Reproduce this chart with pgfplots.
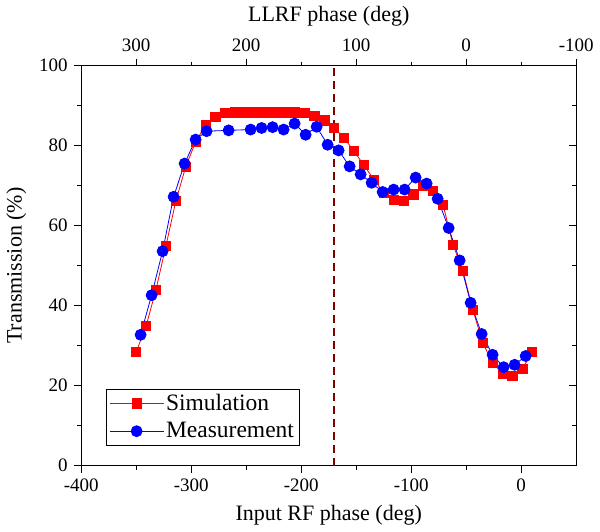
\documentclass[border=0pt]{standalone}
\usepackage{pgfplots}
\pgfplotsset{compat=1.18}
\usepackage{fontspec}
\setmainfont{Liberation Serif}
\definecolor{dred}{RGB}{128,0,0}
\begin{document}
\fontsize{19}{23}\selectfont
\begin{tikzpicture}
\pgfplotsset{
  common/.style={
    width=495pt, height=400pt, scale only axis,
    xmin=-400, xmax=50, ymin=0, ymax=100,
    /pgf/number format/assume math mode=true,
    tick style={black, line width=0.8pt},
    major tick length=7pt, minor tick length=4pt,
    axis line style={-, line width=0.8pt},
    ticklabel style={font=\fontsize{19}{23}\selectfont},
    label style={font=\fontsize{22}{26}\selectfont},
  }
}
% main axis: bottom and left
\begin{axis}[common,
  axis x line*=bottom, axis y line*=left,
  tick align=outside,
  xtick={-400,-300,-200,-100,0},
  minor xtick={-350,-250,-150,-50},
  ytick={0,20,40,60,80,100},
  minor ytick={10,30,50,70,90},
  xlabel={Input RF phase (deg)},
  ylabel={Transmission (\%)},
  legend style={at={(0.05,0.05)}, anchor=south west, draw=black, line width=0.6pt,
    font=\fontsize{23.5}{27}\selectfont, row sep=5pt, inner xsep=3pt, inner ysep=3pt},
  legend cell align=left,
  legend image code/.code={\draw[mark repeat=2,mark phase=2,#1] plot coordinates {(0pt,0pt) (27pt,0pt) (54pt,0pt)};},
]
\addplot[red, line width=0.8pt, mark=square*, mark size=4.6pt, mark options={solid}] coordinates {
(-350,28.4) (-341,34.9) (-332,44.0) (-323,54.9) (-314,66.1) (-305,74.7) (-296,80.9)
(-287,85.1) (-278,87.2) (-269,88.1) (-260,88.3) (-251,88.3) (-242,88.3) (-233,88.3)
(-224,88.3) (-215,88.3) (-206,88.3) (-197,88.1) (-188,87.4) (-179,86.3) (-170,84.4)
(-161,81.9) (-152,78.6) (-143,75.1) (-134,71.5) (-125,68.2) (-116,66.5) (-107,66.2)
(-98,67.8) (-89,69.9) (-80,68.7) (-71,65.1) (-62,55.2) (-53,48.6) (-44,39.0)
(-35,30.7) (-26,25.7) (-17,23.0) (-8,22.4) (1,24.2) (10,28.4)
};
\addlegendentry{Simulation}
\addplot[blue, line width=0.8pt, mark=*, mark size=5.5pt, mark options={solid}] coordinates {
(-346,32.7) (-336,42.6) (-326,53.6) (-316,67.2) (-306,75.5) (-296,81.5) (-286,83.6)
(-266,83.8) (-246,84.0) (-236,84.4) (-226,84.6) (-216,84.0) (-206,85.5) (-196,82.7)
(-186,84.7) (-176,80.2) (-166,78.8) (-156,74.8) (-146,72.8) (-136,70.7) (-126,68.4)
(-116,69.0) (-106,69.0) (-96,72.0) (-86,70.5) (-76,66.7) (-66,59.4) (-56,51.3)
(-46,40.7) (-36,32.9) (-26,27.7) (-16,24.6) (-6,25.2) (4,27.4)
};
\addlegendentry{Measurement}
\addplot[dred, line width=1.6pt, dash pattern=on 8pt off 5pt, forget plot] coordinates {(-170,0) (-170,100)};
\end{axis}
% top axis
\begin{axis}[common,
  axis x line*=top, axis y line=none,
  tick align=outside,
  xtick={-350,-250,-150,-50,50},
  xticklabels={300,200,100,0,-100},
  minor xtick={-300,-200,-100,0},
  xlabel={LLRF phase (deg)},
]
\end{axis}
% right axis
\begin{axis}[common,
  axis y line*=right, axis x line=none,
  tick align=inside,
  ytick={0,20,40,60,80,100}, yticklabels={},
  minor ytick={10,30,50,70,90},
]
\end{axis}
\end{tikzpicture}
\end{document}
